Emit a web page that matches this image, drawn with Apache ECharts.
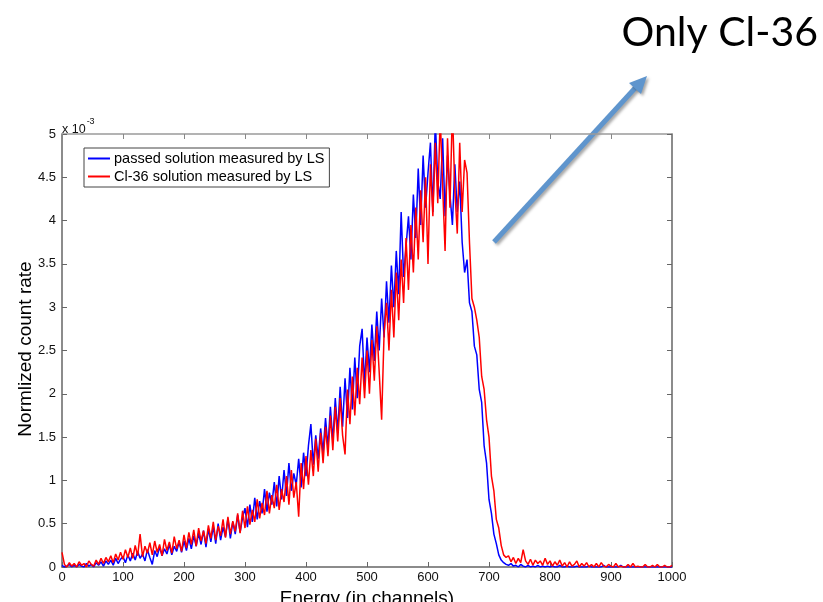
<!DOCTYPE html>
<html>
<head>
<meta charset="utf-8">
<script src="https://cdn.jsdelivr.net/npm/echarts@6/dist/echarts.min.js"></script>
<style>
html,body{margin:0;padding:0;background:#fff;}
#chart{width:823px;height:602px;}
</style>
</head>
<body>
<div id="chart"></div>
<script>
// Channel step between stored samples (channels 0..1000)
const channelStep = 4;

const xTicks = [0,100,200,300,400,500,600,700,800,900,1000];
const yTicks = [0,0.5,1,1.5,2,2.5,3,3.5,4,4.5,5];

const seriesNames = ['passed solution measured by LS', 'Cl-36 solution measured by LS'];

// Normalized count rate (x 10^-3), blue series: passed solution
const bluePassed = [
  0.02,0.00,0.01,0.03,0.00,0.02,0.00,0.03,0.01,0.00,0.04,0.01,0.03,0.00,0.05,0.02,0.06,0.01,0.07,0.03,0.08,0.02,0.10,0.04,0.09,
  0.12,0.05,0.14,0.07,0.16,0.08,0.18,0.10,0.15,0.07,0.20,0.11,0.03,0.19,0.12,0.23,0.13,0.21,0.15,0.26,0.14,0.24,0.18,0.29,0.17,
  0.30,0.19,0.33,0.21,0.36,0.24,0.39,0.26,0.42,0.23,0.44,0.29,0.47,0.27,0.50,0.31,0.46,0.35,0.56,0.33,0.52,0.38,0.60,0.40,0.57,
  0.68,0.46,0.72,0.52,0.80,0.55,0.76,0.62,0.90,0.64,0.86,0.72,0.98,0.70,1.05,0.78,1.12,0.82,1.20,0.88,1.08,0.95,1.25,0.92,1.32,
  1.05,1.40,1.65,1.18,1.52,1.25,1.60,1.32,1.72,1.38,1.85,1.45,1.95,1.55,2.08,1.62,2.18,1.72,2.30,1.82,2.42,1.95,2.55,2.75,2.10,
  2.65,2.25,2.80,2.38,2.95,2.50,3.10,2.65,3.30,2.82,3.48,3.00,3.65,3.15,4.10,3.35,3.70,4.05,3.55,4.30,3.80,4.60,3.95,4.75,4.15,
  4.55,4.90,4.10,5.15,4.45,4.25,4.95,4.05,4.75,4.30,3.95,4.65,4.10,4.45,3.75,3.40,3.55,3.05,2.95,2.55,2.45,2.05,1.90,1.40,1.20,
  0.78,0.62,0.38,0.27,0.14,0.08,0.05,0.03,0.02,0.04,0.01,0.02,0.00,0.03,0.01,0.00,0.02,0.00,0.01,0.00,0.02,0.00,0.01,0.00,0.01,
  0.00,0.01,0.00,0.00,0.02,0.00,0.00,0.01,0.00,0.00,0.00,0.01,0.00,0.00,0.00,0.00,0.01,0.00,0.00,0.00,0.00,0.00,0.02,0.00,0.00,
  0.00,0.00,0.00,0.00,0.02,0.00,0.00,0.00,0.00,0.00,0.00,0.00,0.00,0.00,0.00,0.00,0.00,0.00,0.00,0.00,0.00,0.00,0.00,0.00,0.00,0.00
];

// Normalized count rate (x 10^-3), red series: Cl-36 solution
const redCl36 = [
  0.17,0.03,0.00,0.05,0.01,0.04,0.00,0.06,0.02,0.04,0.00,0.07,0.03,0.01,0.08,0.03,0.10,0.04,0.11,0.06,0.13,0.05,0.15,0.08,0.17,
  0.09,0.20,0.11,0.22,0.10,0.25,0.13,0.38,0.12,0.24,0.16,0.28,0.14,0.30,0.17,0.26,0.13,0.32,0.19,0.29,0.16,0.35,0.21,0.31,0.18,
  0.37,0.22,0.40,0.26,0.43,0.24,0.45,0.30,0.42,0.27,0.48,0.33,0.52,0.31,0.47,0.36,0.55,0.34,0.58,0.38,0.53,0.41,0.62,0.39,0.65,
  0.45,0.70,0.49,0.66,0.52,0.78,0.56,0.74,0.60,0.88,0.62,0.83,0.68,0.95,0.66,0.90,0.75,1.05,0.72,1.12,0.80,0.98,0.58,1.20,0.90,
  1.28,0.95,1.35,1.05,1.48,1.10,1.55,1.20,1.62,1.28,1.75,1.35,1.85,1.45,1.95,1.52,1.30,2.05,1.65,2.20,1.75,2.30,1.88,2.42,1.95,
  2.50,2.00,2.62,2.15,2.78,2.25,1.70,2.70,3.05,2.50,3.20,2.65,3.40,2.85,3.55,3.05,3.80,3.20,3.95,3.40,4.15,3.55,4.35,3.75,4.50,
  3.50,4.65,4.05,4.90,4.20,5.20,4.40,3.65,4.95,4.15,5.30,4.35,3.85,4.90,4.10,4.70,4.55,3.75,3.10,3.00,2.85,2.65,2.20,2.05,1.70,
  1.50,1.05,0.88,0.55,0.45,0.25,0.14,0.11,0.13,0.06,0.11,0.04,0.10,0.05,0.20,0.07,0.03,0.09,0.02,0.08,0.04,0.07,0.02,0.10,0.03,
  0.07,0.01,0.06,0.02,0.08,0.01,0.05,0.00,0.06,0.01,0.03,0.07,0.00,0.04,0.01,0.05,0.00,0.03,0.00,0.04,0.00,0.05,0.01,0.00,0.03,
  0.01,0.00,0.04,0.00,0.01,0.00,0.00,0.03,0.00,0.04,0.00,0.01,0.00,0.00,0.03,0.00,0.00,0.02,0.00,0.03,0.00,0.00,0.02,0.00,0.00,0.02
];

function pairs(vals){ return vals.map((v,i)=>[i*channelStep, v]); }

const chart = echarts.init(document.getElementById('chart'), null, {renderer:'canvas'});

const axisFont = {fontFamily:'Liberation Sans, Arial, sans-serif', fontSize:13, color:'#111'};

const option = {
  animation:false,
  backgroundColor:'#fff',
  grid:{left:62, right:151, top:134, bottom:35, containLabel:false, outerBoundsMode:'none'},
  legend:{
    left:84, top:148, orient:'vertical',
    borderColor:'#444', borderWidth:1, backgroundColor:'#fff',
    padding:[3,5,3,4], itemGap:3, itemWidth:22, itemHeight:2, icon:'rect',
    textStyle:{fontFamily:'Liberation Sans, Arial, sans-serif', fontSize:14.5, color:'#000', padding:[0,0,0,-1]},
    data:seriesNames
  },
  xAxis:[
    {type:'value', min:xTicks[0], max:xTicks[xTicks.length-1], interval:100, position:'bottom',
     axisLine:{onZero:false, lineStyle:{color:'#666', width:1.5}},
     axisTick:{inside:true, length:5, lineStyle:{color:'#666'}},
     axisLabel:{...axisFont, margin:4, formatter:(v)=>String(v)},
     splitLine:{show:false},
     name:'Energy (in channels)', nameLocation:'middle', nameGap:20,
     nameTextStyle:{fontFamily:'Liberation Sans, Arial, sans-serif', fontSize:19, color:'#000'}},
    {type:'value', min:xTicks[0], max:xTicks[xTicks.length-1], interval:100, position:'top',
     axisLine:{onZero:false, lineStyle:{color:'#9a9a9a', width:1.5}},
     axisTick:{inside:true, length:5, lineStyle:{color:'#888'}},
     axisLabel:{show:false}, splitLine:{show:false}}
  ],
  yAxis:[
    {type:'value', min:yTicks[0], max:yTicks[yTicks.length-1], interval:0.5, position:'left',
     axisLine:{show:true, onZero:false, lineStyle:{color:'#666', width:1.5}},
     axisTick:{show:true, inside:true, length:5, lineStyle:{color:'#666'}},
     axisLabel:{...axisFont, margin:6, formatter:(v)=>String(v)},
     splitLine:{show:false}},
    {type:'value', min:yTicks[0], max:yTicks[yTicks.length-1], interval:0.5, position:'right',
     axisLine:{show:true, onZero:false, lineStyle:{color:'#666', width:1.5}},
     axisTick:{show:true, inside:true, length:5, lineStyle:{color:'#666'}},
     axisLabel:{show:false}, splitLine:{show:false}}
  ],
  series:[
    {name:seriesNames[0], type:'line', xAxisIndex:0, yAxisIndex:0, data:pairs(bluePassed),
     showSymbol:false, symbol:'none', clip:true, color:'#0000ff',
     lineStyle:{color:'#0000ff', width:1.5}},
    {name:seriesNames[1], type:'line', xAxisIndex:0, yAxisIndex:0, data:pairs(redCl36),
     showSymbol:false, symbol:'none', clip:true, color:'#ff0000',
     lineStyle:{color:'#ff0000', width:1.5}}
  ],
  graphic:[
    {type:'text', left:62, top:117, style:{
      text:'{b|x 10}{s|-3}', rich:{
        b:{fontFamily:'Liberation Sans, Arial, sans-serif', fontSize:12.5, fill:'#111', padding:[6,0,0,0]},
        s:{fontFamily:'Liberation Sans, Arial, sans-serif', fontSize:9, fill:'#111', verticalAlign:'top', padding:[0,0,6,1]}
      }}},
    {type:'text', rotation:Math.PI/2, x:26, y:349, style:{
      text:'Normlized count rate', fontFamily:'Liberation Sans, Arial, sans-serif', fontSize:19, fill:'#000',
      align:'center', verticalAlign:'middle'}},
    {type:'text', right:5, top:12, style:{
      text:'Only Cl-36', fontFamily:'Lato, "Open Sans", sans-serif', fontSize:41, fill:'#000'}},
    {type:'group', children:[
      {type:'line', shape:{x1:494, y1:242, x2:637, y2:86},
       style:{stroke:'#5f95cd', lineWidth:5, shadowBlur:3, shadowColor:'rgba(0,0,0,0.35)', shadowOffsetX:2, shadowOffsetY:2}},
      {type:'polygon', shape:{points:[[647,76],[629,83],[641,94]]},
       style:{fill:'#5f95cd', shadowBlur:3, shadowColor:'rgba(0,0,0,0.35)', shadowOffsetX:2, shadowOffsetY:2}}
    ]}
  ]
};
chart.setOption(option);
</script>
</body>
</html>
